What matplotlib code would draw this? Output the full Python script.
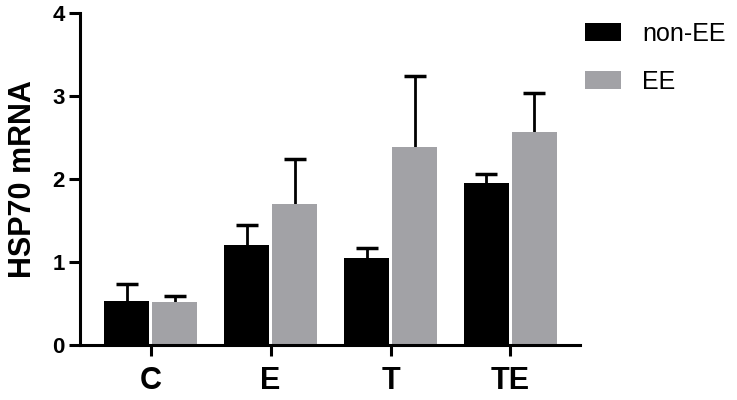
import numpy as np
import matplotlib.pyplot as plt

plt.rcParams['font.family'] = ['Liberation Sans', 'DejaVu Sans']

groups = ['C', 'E', 'T', 'TE']
non_ee = [0.53, 1.20, 1.05, 1.95]
non_ee_err = [0.20, 0.25, 0.12, 0.11]
ee = [0.52, 1.70, 2.39, 2.57]
ee_err = [0.07, 0.54, 0.85, 0.47]

x = np.arange(len(groups))
w = 0.375
off = 0.2

fig = plt.figure(figsize=(7.37, 4.0), dpi=100)
ax = fig.add_axes([0.1085, 0.1375, 0.787 - 0.1085, 0.9675 - 0.1375])

b1 = ax.bar(x - off, non_ee, w, color='black', label='non-EE', zorder=2)
b2 = ax.bar(x + off, ee, w, color='#a2a2a6', label='EE', zorder=2)

# upper error bars only, hide the lower caps
for xs, ys, es in [(x - off, non_ee, non_ee_err), (x + off, ee, ee_err)]:
    eb = ax.errorbar(xs, ys, yerr=[np.zeros(4), es], fmt='none',
                     ecolor='black', elinewidth=2, capsize=8, capthick=2.5, zorder=1)
    eb[1][0].set_visible(False)

ax.set_xlim(-0.59, 3.58)
ax.set_ylim(0, 4)
ax.set_yticks([0, 1, 2, 3, 4])
ax.set_xticks(x)
ax.set_xticklabels(groups, fontsize=22, fontweight='bold')
for t in ax.get_yticklabels():
    t.set_fontsize(16)
    t.set_fontweight('bold')

for s in ['top', 'right']:
    ax.spines[s].set_visible(False)
for s in ['left', 'bottom']:
    ax.spines[s].set_linewidth(2.2)
ax.tick_params(axis='both', direction='out', length=8, width=2.2)
ax.tick_params(axis='x', pad=7)
ax.tick_params(axis='y', pad=3)

ax.set_ylabel('HSP70 mRNA', fontsize=22, fontweight='bold', labelpad=10)

fig.legend(handles=[b1, b2], loc='upper left', bbox_to_anchor=(0.794, 0.945),
           frameon=False, fontsize=18, handlelength=1.44, handleheight=0.72,
           handletextpad=0.84, labelspacing=0.95, borderpad=0, borderaxespad=0)

plt.savefig('out.png', dpi=100)
